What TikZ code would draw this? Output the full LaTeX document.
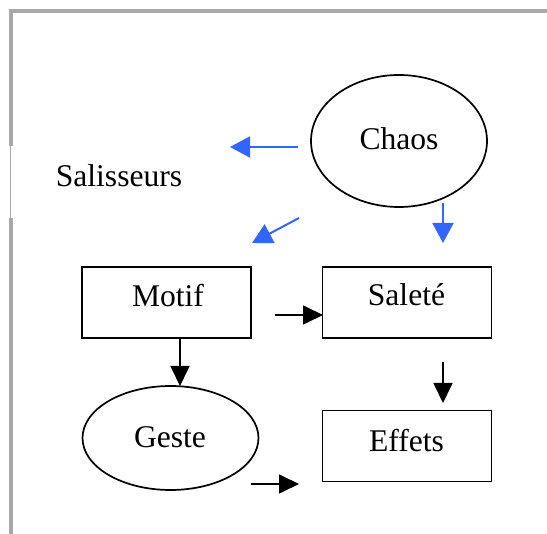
\documentclass[tikz,border=0pt]{standalone}
\usepackage{fontspec}
\setmainfont{Liberation Serif}
\usetikzlibrary{shapes.geometric,arrows.meta}
\definecolor{frame}{HTML}{A8A8A8}
\definecolor{flow}{HTML}{3366FF}
\begin{document}
\begin{tikzpicture}[x=1pt,y=-1pt,
  box/.style={draw,line width=1.8pt,rectangle,minimum width=169pt,minimum height=71pt,inner sep=0pt},
  blob/.style={draw,line width=1.7pt,ellipse,inner sep=0pt},
  lbl/.style={anchor=base,inner sep=0pt,font=\fontsize{31.6}{36}\selectfont},
  blk/.style={line width=1.7pt,-{Triangle[length=20pt,width=19pt]}},
  blu/.style={draw=flow,line width=2pt,-{Triangle[length=20pt,width=21pt]},flow}]
\useasboundingbox (0,0) rectangle (547,534);
% frame lines along the top and left edges
\draw[frame,line width=3.5pt] (11.2,534) -- (11.2,218);
\draw[frame,line width=1pt] (10.5,218) -- (10.5,146);
\draw[frame,line width=3.5pt] (11.2,146) -- (11.2,11.2) -- (547,11.2);
% shapes
\node[blob,minimum width=176pt,minimum height=132pt] (chaos) at (399,141) {};
\node[box] (motif) at (166.5,302.5) {};
\node[box] (salete) at (407,302.5) {};
\node[blob,minimum width=176pt,minimum height=104pt] (geste) at (170.5,438) {};
\node[box] (effets) at (407,446) {};
% labels
\node[lbl] (chaost) at (399,150) {Chaos};
\node[lbl] (salis) at (119,187) {Salisseurs};
\node[lbl] (motift) at (168,307) {Motif};
\node[lbl] (saletet) at (406.5,306) {Saleté};
\node[lbl] (gestet) at (170,448) {Geste};
\node[lbl] (effetst) at (406.5,452) {Effets};
% arrow end points
\coordinate (c1s) at (298,147); \coordinate (c1e) at (230,147);
\coordinate (c2s) at (299,218); \coordinate (c2e) at (252,243);
\coordinate (c3s) at (443,203); \coordinate (c3e) at (443,243);
\coordinate (m1s) at (275,315); \coordinate (m1e) at (323,315);
\coordinate (s1s) at (443,362); \coordinate (s1e) at (443,403);
\coordinate (m2s) at (180,338); \coordinate (m2e) at (180,386);
\coordinate (g1s) at (251,484); \coordinate (g1e) at (299,484);
% blue arrows from Chaos
\draw[blu] (c1s) -- (c1e);
\draw[blu] (c2s) -- (c2e);
\draw[blu] (c3s) -- (c3e);
% black arrows
\draw[blk] (m1s) -- (m1e);
\draw[blk] (s1s) -- (s1e);
\draw[blk] (m2s) -- (m2e);
\draw[blk] (g1s) -- (g1e);
\end{tikzpicture}
\end{document}
